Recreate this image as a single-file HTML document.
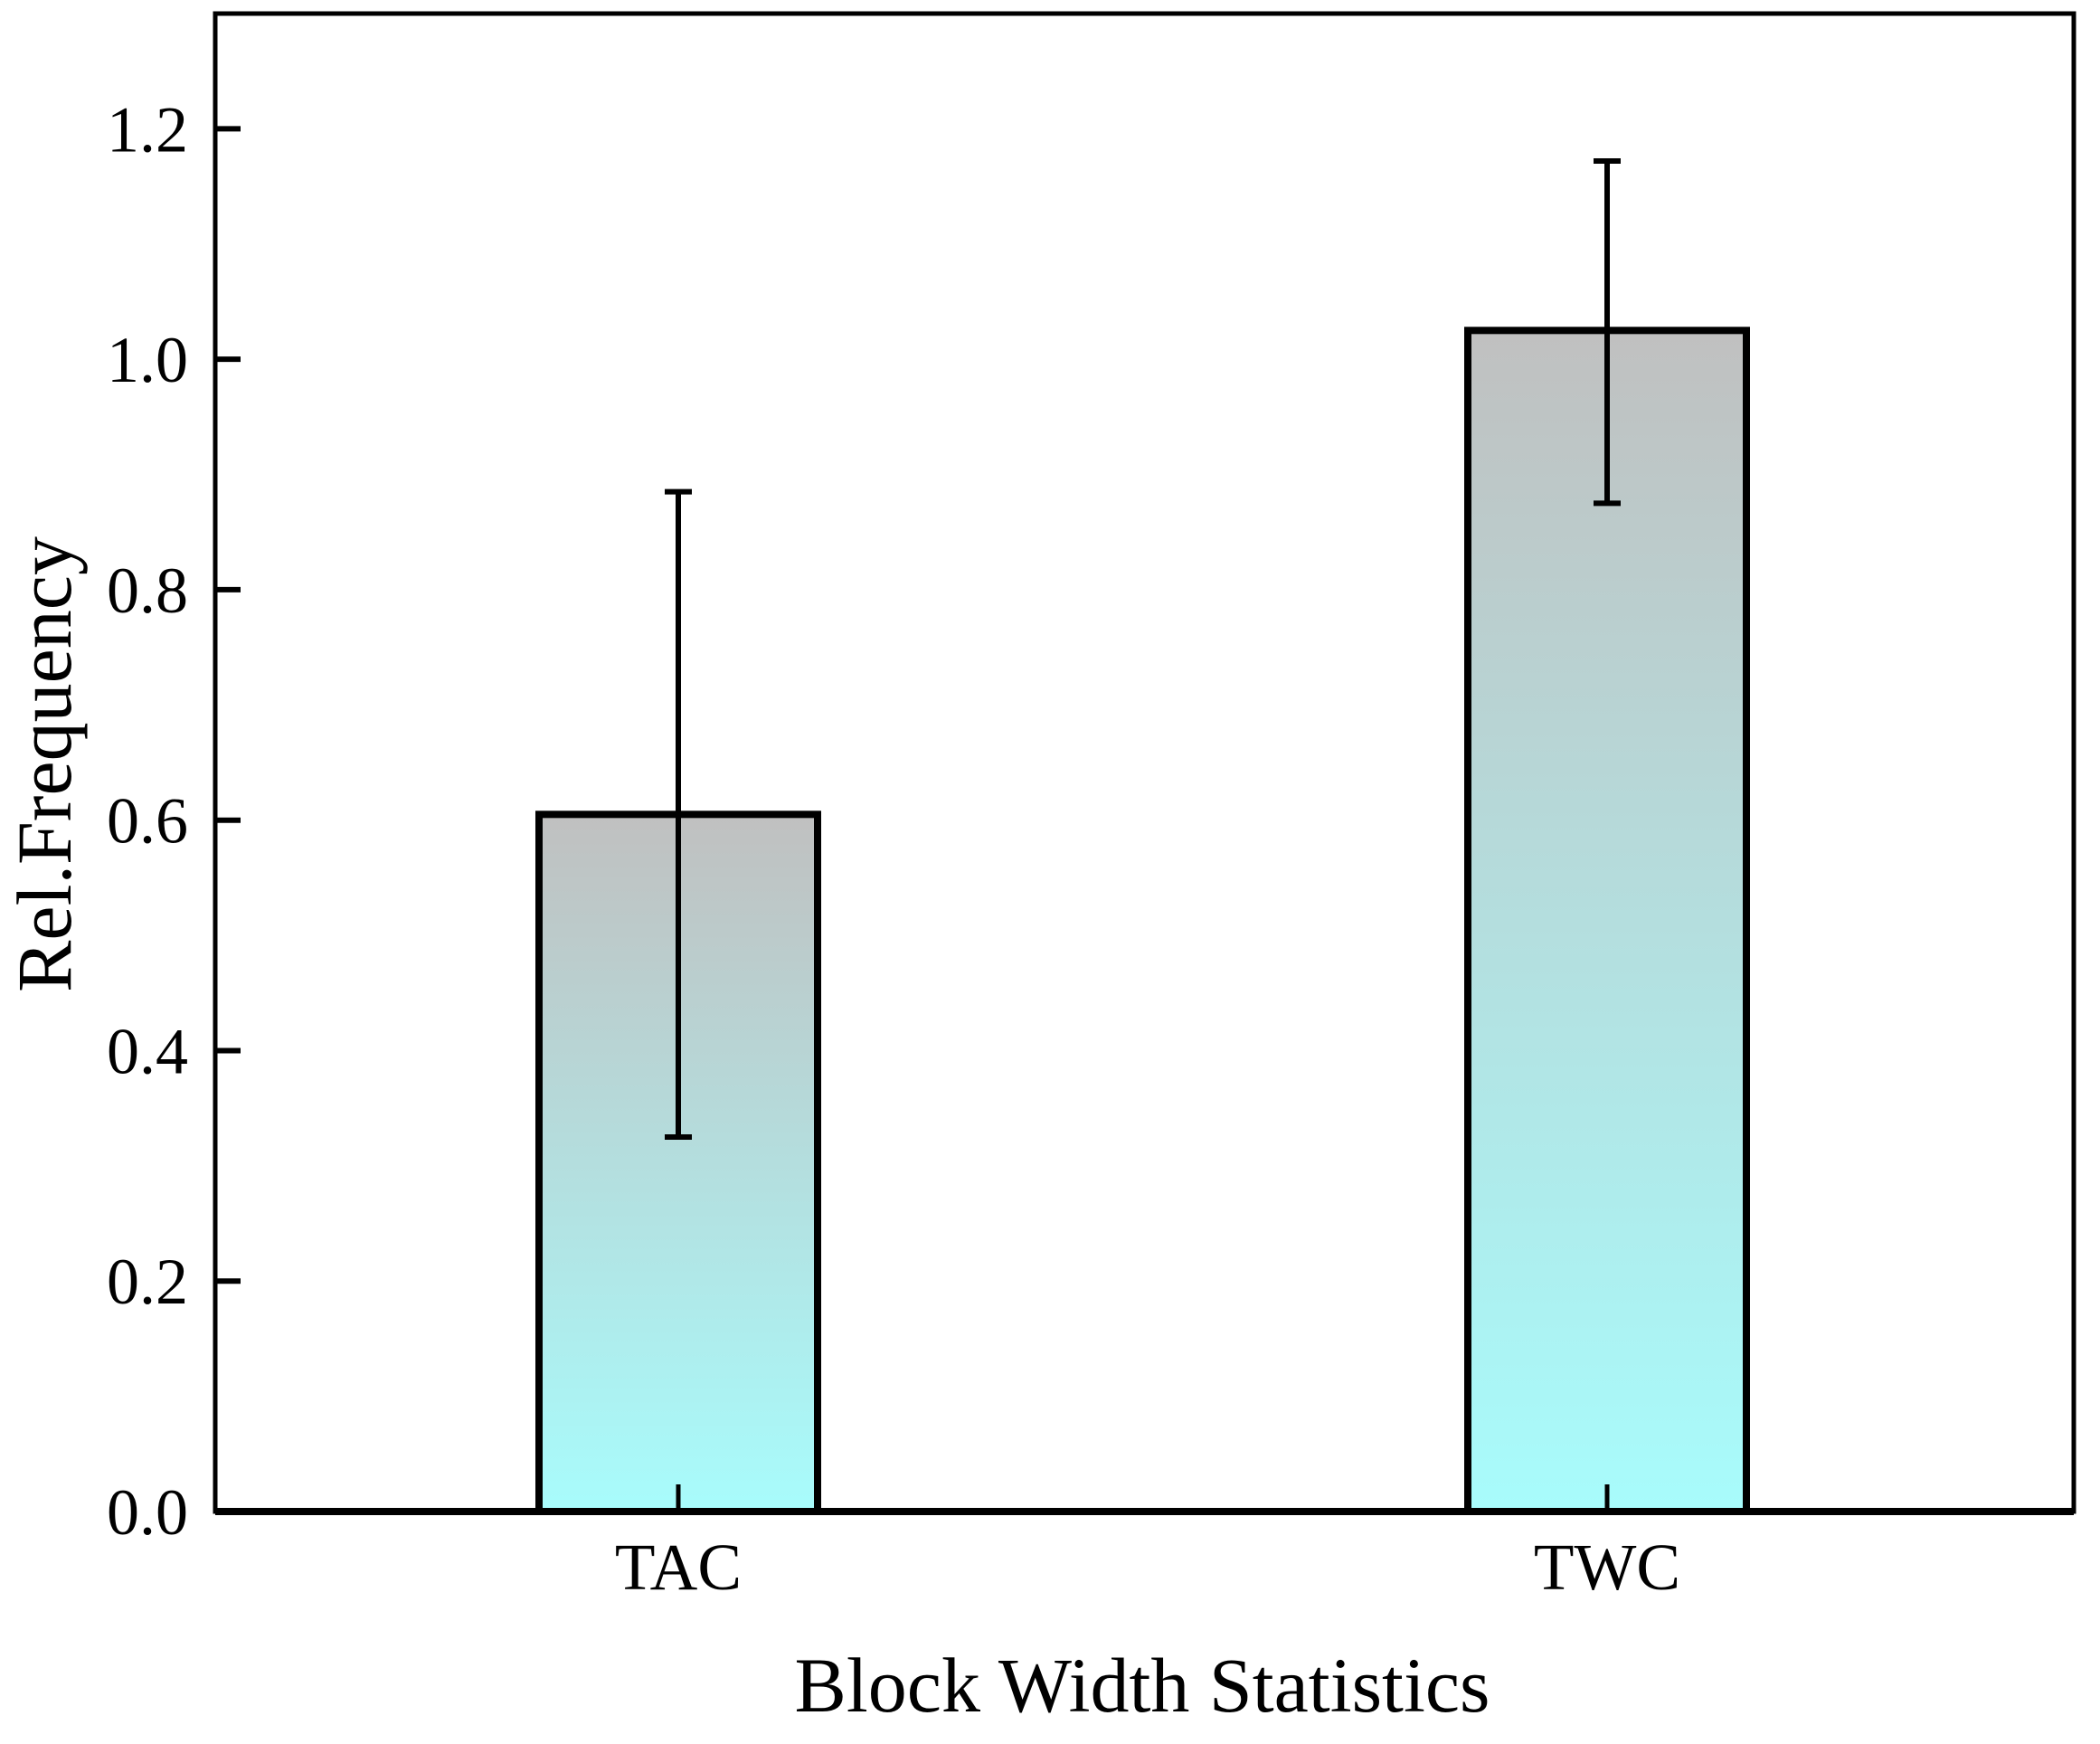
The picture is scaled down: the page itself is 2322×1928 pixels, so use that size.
<!DOCTYPE html>
<html><head><meta charset="utf-8"><style>
html,body{margin:0;padding:0;background:#fff;}
svg{display:block;font-family:"Liberation Serif",serif;}
</style></head><body>
<svg id="chart" width="2322" height="1928" viewBox="0 0 2322 1928" xmlns="http://www.w3.org/2000/svg">
<defs>
<linearGradient id="g" x1="0" y1="0" x2="0" y2="1">
<stop offset="0" stop-color="#c0c0c0"/><stop offset="1" stop-color="#a8fcfc"/>
</linearGradient>
</defs>
<g id="plot"></g>
<text x="1263" y="1892" font-size="86" text-anchor="middle">Block Width Statistics</text>
<text transform="translate(78,845) rotate(-90)" font-size="86" text-anchor="middle">Rel.Frequency</text>
</svg>
<script>
const categories = ["TAC","TWC"];
const values = [0.605, 1.025];
const errLow = [0.325, 0.875];
const errHigh = [0.885, 1.172];
const yTicks = [0.0, 0.2, 0.4, 0.6, 0.8, 1.0, 1.2];
const yTickLabels = ["0.0","0.2","0.4","0.6","0.8","1.0","1.2"];

const L=238,R=2293,T=15,B=1671,yMax=1.3;
const ns="http://www.w3.org/2000/svg";
const g=document.getElementById('plot');
function y(v){return B-(B-T)*v/yMax;}
const centers=[750,1777];
function x(i){return centers[i];}
const bw=308;
function el(tag,attrs){const e=document.createElementNS(ns,tag);for(const k in attrs)e.setAttribute(k,attrs[k]);g.appendChild(e);return e;}

categories.forEach((c,i)=>{
  const b=el('rect',{x:x(i)-bw/2,y:y(values[i]),width:bw,height:B-y(values[i]),fill:'url(#g)',stroke:'#000','stroke-width':8});
  
  
  const e=el('path',{d:`M${x(i)} ${y(errLow[i])}V${y(errHigh[i])}M${x(i)-15} ${y(errLow[i])}h30M${x(i)-15} ${y(errHigh[i])}h30`,stroke:'#000','stroke-width':6,fill:'none'});
  
  
  const t=el('line',{x1:x(i),x2:x(i),y1:B,y2:B-30,stroke:'#000','stroke-width':5});
  
  
  const l=el('text',{x:x(i),y:1757,'font-size':73,'text-anchor':'middle'});
  l.textContent=c;
  
  
});
yTicks.forEach((v,i)=>{
  const t=el('line',{x1:L,x2:L+28,y1:y(v),y2:y(v),stroke:'#000','stroke-width':6});
  
  
  const l=el('text',{x:208,y:y(v)+25,'font-size':72,'text-anchor':'end'});
  l.textContent=yTickLabels[i];
  
  
});
const frame=el('rect',{x:L,y:T,width:R-L,height:B-T,fill:'none',stroke:'#000','stroke-width':5});


const xa=el('line',{x1:L,x2:R,y1:B,y2:B,stroke:'#000','stroke-width':8});


</script>
</body></html>
